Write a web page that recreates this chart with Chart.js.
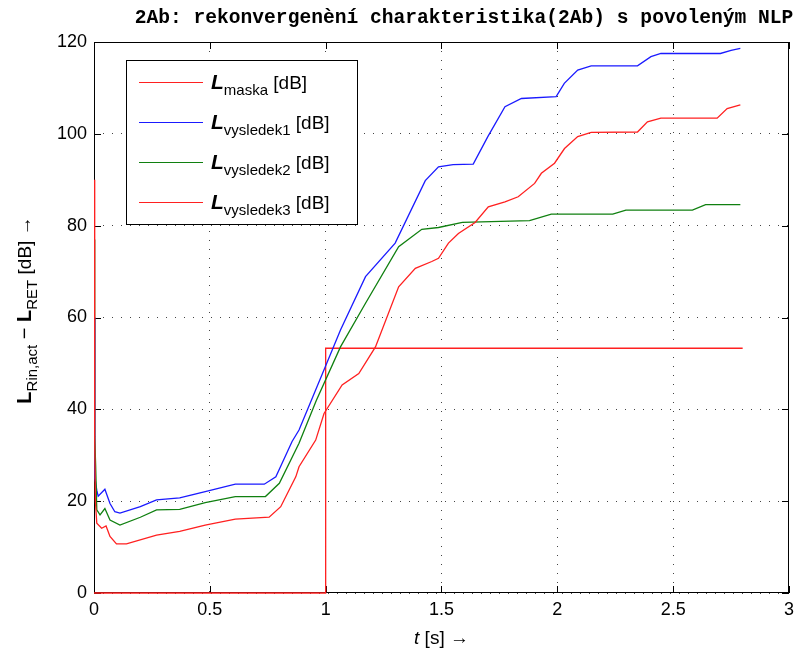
<!DOCTYPE html>
<html>
<head>
<meta charset="utf-8">
<script src="https://cdn.jsdelivr.net/npm/chart.js@4/dist/chart.umd.min.js"></script>
<style>
  html, body { margin: 0; padding: 0; background: #fff; }
  #c { display: block; }
</style>
</head>
<body>
<canvas id="c" width="800" height="650" style="width:800px;height:650px"></canvas>
<script>
// values
const titleText = "2Ab: rekonvergenèní charakteristika(2Ab) s povoleným NLP";
const xTicks = [0, 0.5, 1, 1.5, 2, 2.5, 3];
const yTicks = [0, 20, 40, 60, 80, 100, 120];

const maskT = [0, 1, 1, 2.8];
const maskL = [0, 0, 53.3, 53.3];

const res1T = [0, 0.004, 0.012, 0.018, 0.047, 0.069, 0.09, 0.112, 0.2, 0.27, 0.37, 0.48, 0.61, 0.735, 0.785, 0.855,
  0.885, 0.993, 1.064, 1.172, 1.3, 1.43, 1.487, 1.55, 1.637, 1.7, 1.774, 1.845, 1.995, 2.03, 2.088, 2.146,
  2.346, 2.404, 2.447, 2.704, 2.75, 2.79];
const res1L = [60, 25, 22.4, 21.1, 22.6, 19.5, 17.7, 17.4, 18.8, 20.3, 20.7, 22.1, 23.7, 23.7, 25.3, 33,
  35.5, 48.6, 57.3, 68.9, 76.2, 89.8, 92.8, 93.3, 93.4, 99.4, 105.9, 107.7, 108.1, 111, 113.9, 114.8,
  114.8, 116.8, 117.5, 117.5, 118.2, 118.6];

const res2T = [0, 0.002, 0.004, 0.007, 0.012, 0.026, 0.047, 0.069, 0.112, 0.2, 0.27, 0.37, 0.48, 0.61, 0.74, 0.8, 0.885,
  0.96, 1.064, 1.172, 1.315, 1.415, 1.487, 1.59, 1.88, 1.974, 2.239, 2.296, 2.583, 2.64, 2.79];
const res2L = [77, 67, 34, 28, 18.1, 17, 18.4, 15.9, 14.8, 16.5, 18.1, 18.2, 19.7, 21, 21, 23.9, 32.6,
  42, 53.6, 63.1, 75.4, 79.2, 79.6, 80.7, 81.1, 82.5, 82.5, 83.4, 83.4, 84.6, 84.6];

const res3T = [0, 0.003, 0.006, 0.012, 0.033, 0.052, 0.069, 0.097, 0.14, 0.27, 0.37, 0.48, 0.61, 0.756, 0.806, 0.871,
  0.885, 0.957, 0.993, 1.071, 1.143, 1.215, 1.315, 1.387, 1.458, 1.487, 1.53, 1.573, 1.645, 1.702, 1.774, 1.831,
  1.902, 1.931, 1.988, 2.031, 2.088, 2.146, 2.346, 2.389, 2.447, 2.69, 2.733, 2.79];
const res3L = [90, 34, 20, 15.2, 14.1, 14.6, 12.3, 10.7, 10.7, 12.6, 13.4, 14.8, 16.1, 16.5, 18.8, 25.3,
  27.5, 33.3, 39.1, 45.3, 47.8, 53.6, 66.7, 70.7, 72.2, 72.9, 76.2, 78.3, 80.7, 84.1, 85.2, 86.3,
  89.2, 91.4, 93.6, 96.8, 99.4, 100.3, 100.4, 102.6, 103.4, 103.4, 105.5, 106.3];

const legendSubs = ["maska", "vysledek1", "vysledek2", "vysledek3"];

function pts(ts, ls) {
  return ts.map((t, i) => ({ x: t, y: ls[i] }));
}

// rich text: list of [text, font, dy]
function richWidth(ctx, parts) {
  let w = 0;
  parts.forEach(p => { ctx.font = p[1]; w += ctx.measureText(p[0]).width; });
  return w;
}
function drawRich(ctx, parts, x, y) {
  let cx = x;
  parts.forEach(p => {
    ctx.font = p[1];
    ctx.fillText(p[0], cx, y + (p[2] || 0));
    cx += ctx.measureText(p[0]).width;
  });
}

const SANS = '"Liberation Sans", Arial, sans-serif';

const decor = {
  id: "decor",
  beforeDatasetsDraw(chart) {
    const { ctx, chartArea: a, scales: { x, y } } = chart;
    ctx.save();
    ctx.strokeStyle = "#000";
    ctx.lineWidth = 1;
    ctx.strokeRect(a.left + 0.5, a.top + 0.5, a.right - a.left - 1, a.bottom - a.top - 1);
    ctx.beginPath();
    xTicks.forEach(v => {
      const px = Math.round(x.getPixelForValue(v)) + 0.5;
      ctx.moveTo(px, a.bottom); ctx.lineTo(px, a.bottom - 7);
      ctx.moveTo(px, a.top); ctx.lineTo(px, a.top + 7);
    });
    yTicks.forEach(v => {
      const py = Math.round(y.getPixelForValue(v)) + 0.5;
      ctx.moveTo(a.left, py); ctx.lineTo(a.left + 7, py);
      ctx.moveTo(a.right, py); ctx.lineTo(a.right - 7, py);
    });
    ctx.stroke();
    ctx.restore();
  },
  afterDraw(chart) {
    const { ctx, chartArea: a } = chart;
    ctx.save();
    ctx.fillStyle = "#000";
    ctx.textBaseline = "alphabetic";

    // title
    ctx.font = 'bold 19.6px "Liberation Mono", "Courier New", monospace';
    ctx.textAlign = "center";
    ctx.fillText(titleText, 464, 23);

    // x label
    ctx.textAlign = "left";
    const xl = [["t", "italic 19px " + SANS], [" [s] \u2192", "19px " + SANS]];
    drawRich(ctx, xl, (a.left + a.right) / 2 - richWidth(ctx, xl) / 2, 644);

    // y label
    const yl = [["L", "bold 20px " + SANS], ["Rin,act", "15px " + SANS, 6], [" \u2212 ", "20px " + SANS],
      ["L", "bold 20px " + SANS], ["RET", "15px " + SANS, 6], [" [dB] \u2192", "19px " + SANS]];
    ctx.translate(31, 310);
    ctx.rotate(-Math.PI / 2);
    drawRich(ctx, yl, -richWidth(ctx, yl) / 2, 0);
    ctx.setTransform(1, 0, 0, 1, 0, 0);

    // legend box
    ctx.fillStyle = "#fff";
    ctx.fillRect(126, 60, 232, 165);
    ctx.strokeStyle = "#000";
    ctx.lineWidth = 1;
    ctx.strokeRect(126.5, 60.5, 231, 164);
    const ds = chart.data.datasets;
    legendSubs.forEach((s, i) => {
      const ry = 82 + i * 40;
      ctx.strokeStyle = ds[i].borderColor;
      ctx.lineWidth = 1.2;
      ctx.beginPath();
      ctx.moveTo(139, ry + 0.5);
      ctx.lineTo(203, ry + 0.5);
      ctx.stroke();
      ctx.fillStyle = "#000";
      drawRich(ctx, [["L", "italic bold 21px " + SANS], [s, "15px " + SANS, 6], [" [dB]", "19px " + SANS]], 211, ry + 7);
    });
    ctx.restore();
  }
};

new Chart(document.getElementById("c"), {
  type: "line",
  data: {
    datasets: [
      { data: pts(maskT, maskL), borderColor: "#ff2020", order: 4, clip: false },
      { data: pts(res1T, res1L), borderColor: "#1a1aff", order: 3 },
      { data: pts(res2T, res2L), borderColor: "#108010", order: 2 },
      { data: pts(res3T, res3L), borderColor: "#ff2020", order: 1 }
    ].map(d => Object.assign({ borderWidth: 1.3, pointRadius: 0, tension: 0, fill: false }, d))
  },
  options: {
    responsive: false,
    animation: false,
    events: [],
    layout: { padding: { left: 0, right: 8, top: 42, bottom: 0 } },
    plugins: { legend: { display: false }, title: { display: false }, tooltip: { enabled: false } },
    scales: {
      x: {
        type: "linear",
        min: 0, max: 3,
        afterBuildTicks: s => { s.ticks = xTicks.map(v => ({ value: v })); },
        afterFit: s => { s.height = 57; },
        ticks: { color: "#000", font: { family: SANS, size: 18 }, padding: 6, maxRotation: 0,
          callback: v => String(v) },
        grid: { color: "#444", lineWidth: 1, drawTicks: false },
        border: { display: false, dash: [1, 8] }
      },
      y: {
        min: 0, max: 120,
        afterBuildTicks: s => { s.ticks = yTicks.map(v => ({ value: v })); },
        afterFit: s => { s.width = 94; },
        ticks: { color: "#000", font: { family: SANS, size: 18 }, padding: 7,
          callback: v => String(v) },
        grid: { color: "#444", lineWidth: 1, drawTicks: false },
        border: { display: false, dash: [1, 8] }
      }
    }
  },
  plugins: [decor]
});
</script>
</body>
</html>
